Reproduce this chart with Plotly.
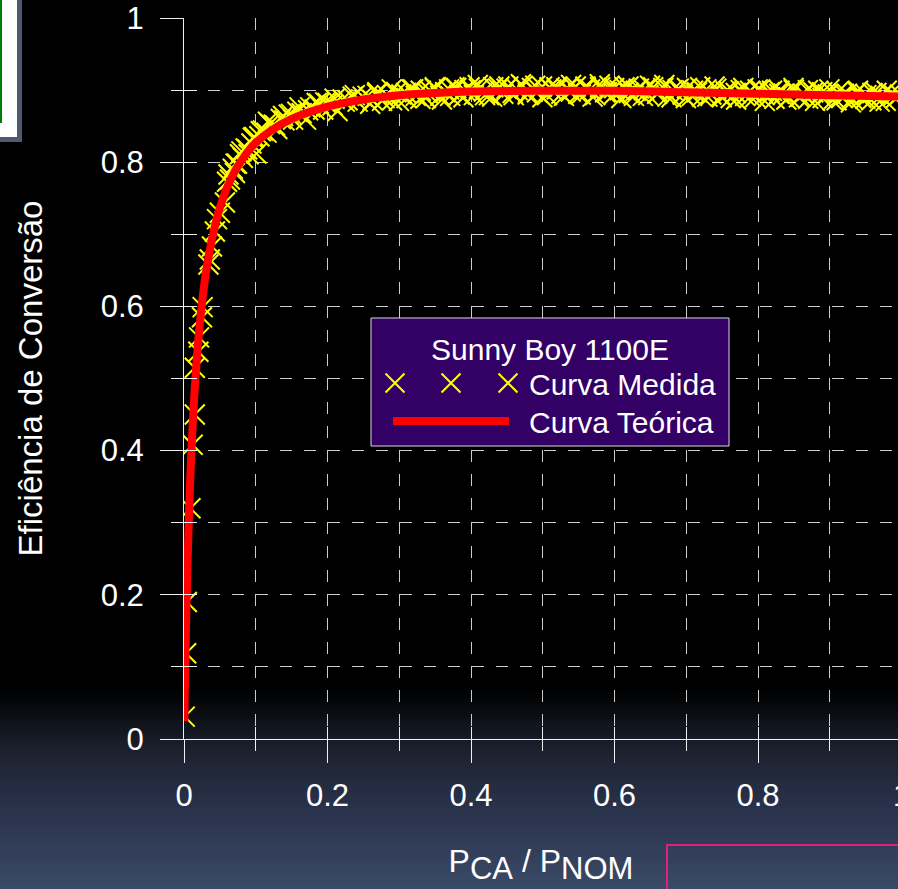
import plotly.graph_objects as go

# ---------------- data ----------------
# measured efficiency points (Curva Medida)
meas_x = [
    0.001, 0.003, 0.004, 0.009, 0.012, 0.015, 0.015, 0.020, 0.021, 0.025,
    0.026, 0.034, 0.036, 0.039, 0.043, 0.046, 0.050, 0.057,
    0.060, 0.064, 0.068, 0.071, 0.074, 0.078, 0.082, 0.086, 0.090, 0.094,
    0.098, 0.101, 0.105, 0.110, 0.115, 0.120, 0.125, 0.130, 0.135, 0.140,
    0.146, 0.152, 0.158, 0.164, 0.170, 0.176, 0.182, 0.188, 0.194, 0.200,
    0.207, 0.214, 0.221, 0.228, 0.235, 0.242, 0.249,
    0.062, 0.072, 0.080, 0.088, 0.096, 0.107, 0.117, 0.127, 0.138, 0.149,
    0.161, 0.173, 0.185, 0.197, 0.210, 0.224, 0.238,
    0.256, 0.263, 0.269, 0.276, 0.283, 0.290, 0.296, 0.303, 0.310, 0.317,
    0.323, 0.330, 0.337, 0.344, 0.350, 0.357, 0.364, 0.371, 0.377, 0.384,
    0.391, 0.398, 0.404, 0.411, 0.418, 0.425, 0.431, 0.438, 0.445, 0.452,
    0.458, 0.465, 0.472, 0.479, 0.485, 0.492, 0.499, 0.506, 0.512, 0.519,
    0.526, 0.533, 0.539, 0.546, 0.553, 0.560, 0.566, 0.573, 0.580, 0.587,
    0.593, 0.600, 0.607, 0.614, 0.620, 0.627, 0.634, 0.641, 0.647, 0.654,
    0.661, 0.668, 0.674, 0.681, 0.688, 0.695, 0.701, 0.708, 0.715, 0.722,
    0.728, 0.735, 0.742, 0.749, 0.755, 0.762, 0.769, 0.776, 0.782, 0.789,
    0.796, 0.803, 0.809, 0.816, 0.823, 0.830, 0.836, 0.843, 0.850, 0.857,
    0.863, 0.870, 0.877, 0.884, 0.890, 0.897, 0.904, 0.911, 0.917, 0.924,
    0.931, 0.938, 0.944, 0.951, 0.958, 0.965, 0.971, 0.978, 0.985, 0.992, 0.998,
    0.2595, 0.2695, 0.2795, 0.2895, 0.2995, 0.3095, 0.3195, 0.3295, 0.3395, 0.3495,
    0.3595, 0.3695, 0.3795, 0.3895, 0.3995, 0.4095, 0.4195, 0.4295, 0.4395, 0.4495,
    0.4595, 0.4695, 0.4795, 0.4895, 0.4995, 0.5095, 0.5195, 0.5295, 0.5395, 0.5495,
    0.5595, 0.5695, 0.5795, 0.5895, 0.5995, 0.6095, 0.6195, 0.6295, 0.6395, 0.6495,
    0.6595, 0.6695, 0.6795, 0.6895, 0.6995, 0.7095, 0.7195, 0.7295, 0.7395, 0.7495,
    0.7595, 0.7695, 0.7795, 0.7895, 0.7995, 0.8095, 0.8195, 0.8295, 0.8395, 0.8495,
    0.8595, 0.8695, 0.8795, 0.8895, 0.8995, 0.9095, 0.9195, 0.9295, 0.9395, 0.9495,
    0.9595, 0.9695, 0.9795, 0.9895,
]
meas_y = [
    0.031, 0.119, 0.190, 0.320, 0.408, 0.450, 0.515, 0.537, 0.557, 0.585,
    0.599, 0.658, 0.665, 0.683, 0.704, 0.721, 0.730, 0.744,
    0.773, 0.776, 0.791, 0.785, 0.798, 0.811, 0.806, 0.819, 0.811, 0.826,
    0.835, 0.812, 0.836, 0.844, 0.841, 0.853, 0.852, 0.846, 0.860, 0.858,
    0.866, 0.859, 0.870, 0.868, 0.859, 0.876, 0.873, 0.881, 0.873, 0.882,
    0.879, 0.871, 0.887, 0.886, 0.891, 0.884, 0.891,
    0.783, 0.798, 0.815, 0.818, 0.834, 0.843, 0.856, 0.851, 0.864, 0.867,
    0.876, 0.872, 0.882, 0.883, 0.888, 0.884, 0.893,
    0.892, 0.886, 0.895, 0.885, 0.893, 0.886, 0.897, 0.894, 0.889, 0.901,
    0.892, 0.899, 0.889, 0.898, 0.902, 0.892, 0.897, 0.892, 0.904, 0.894,
    0.900, 0.904, 0.893, 0.902, 0.898, 0.893, 0.904, 0.902, 0.895, 0.905,
    0.896, 0.900, 0.906, 0.894, 0.903, 0.897, 0.905, 0.893, 0.901, 0.904,
    0.895, 0.902, 0.898, 0.905, 0.894, 0.903, 0.901, 0.893, 0.904, 0.897,
    0.906, 0.895, 0.900, 0.904, 0.896, 0.892, 0.902, 0.900, 0.893, 0.904,
    0.897, 0.903, 0.891, 0.900, 0.901, 0.894, 0.903, 0.892, 0.897, 0.891,
    0.901, 0.894, 0.902, 0.892, 0.898, 0.889, 0.896, 0.900, 0.892, 0.899,
    0.890, 0.901, 0.893, 0.897, 0.888, 0.899, 0.895, 0.890, 0.900, 0.890,
    0.895, 0.888, 0.897, 0.899, 0.889, 0.894, 0.886, 0.897, 0.890, 0.895,
    0.888, 0.898, 0.889, 0.893, 0.886, 0.896, 0.892, 0.885, 0.895, 0.889, 0.894,
    0.881, 0.897, 0.889, 0.901, 0.885, 0.896, 0.901, 0.888, 0.896, 0.904,
    0.887, 0.901, 0.903, 0.890, 0.900, 0.907, 0.893, 0.891, 0.905, 0.902,
    0.893, 0.908, 0.896, 0.906, 0.890, 0.904, 0.901, 0.892, 0.907, 0.895,
    0.905, 0.891, 0.908, 0.897, 0.903, 0.889, 0.905, 0.899, 0.892, 0.906,
    0.895, 0.907, 0.890, 0.902, 0.889, 0.899, 0.904, 0.891, 0.905, 0.890,
    0.898, 0.887, 0.903, 0.891, 0.901, 0.885, 0.899, 0.895, 0.887, 0.903,
    0.891, 0.900, 0.885, 0.897, 0.901, 0.886, 0.895, 0.883, 0.899, 0.888,
    0.896, 0.884, 0.899, 0.893,
]
# theoretical efficiency curve (Curva Teórica)
theo_x = [0.0004, 0.001, 0.002, 0.003, 0.004, 0.006, 0.008, 0.010, 0.0125, 0.015,
          0.0175, 0.020, 0.025, 0.030, 0.035, 0.040, 0.050, 0.060, 0.070, 0.080,
          0.090, 0.100, 0.120, 0.150, 0.200, 0.250, 0.300, 0.350, 0.400, 0.500,
          0.600, 0.700, 0.800, 0.900, 1.000]
theo_y = [0.025, 0.062, 0.117, 0.165, 0.208, 0.281, 0.341, 0.391, 0.443, 0.487,
          0.523, 0.554, 0.604, 0.643, 0.673, 0.698, 0.737, 0.765, 0.786, 0.802,
          0.816, 0.827, 0.843, 0.860, 0.877, 0.887, 0.893, 0.896, 0.898, 0.899,
          0.899, 0.897, 0.895, 0.893, 0.891]

legend_title = "Sunny Boy 1100E"
series_names = ["Curva Medida", "Curva Teórica"]
x_title = ("P<sub><span style='font-size:31px'>CA</span></sub> / "
           "P<sub><span style='font-size:31px'>NOM</span></sub>")
y_title = "Eficiência de Conversão"
x_dtick, x_minor = 0.2, 0.1
y_dtick, y_minor = 0.2, 0.1
cut_tick_label = "1"

# ---------------- layout geometry ----------------
W, H = 898, 889
L, T, BOT = 184, 18, 739
PW, PH = W - L, BOT - T
PX_PER_UNIT = 717.5
XMAX = PW / PX_PER_UNIT
FONT = "Liberation Sans, Arial, sans-serif"
AXC = "#f0f0f0"
GRIDC = "#cccccc"


def px(xp):
    return (xp - L) / PW


def py(yp):
    return (BOT - yp) / PH


fig = go.Figure()

fig.add_trace(go.Scatter(
    x=meas_x, y=meas_y, mode="markers", name=series_names[0], showlegend=False,
    marker=dict(symbol="x-thin", size=20, color="#ffff00",
                line=dict(color="#ffff00", width=2)),
    hoverinfo="skip"))
fig.add_trace(go.Scatter(
    x=theo_x, y=theo_y, mode="lines", name=series_names[1], showlegend=False,
    line=dict(color="#ff0000", width=8, shape="spline"), hoverinfo="skip"))
# empty trace to host the overlay axes carrying the inner tick marks
fig.add_trace(go.Scatter(x=[], y=[], xaxis="x2", yaxis="y2", showlegend=False))

shapes = []
# background gradient (slide background)
stops = [(690, (0, 0, 0)), (720, (14, 17, 24)), (750, (28, 33, 45)),
         (800, (40, 48, 72)), (850, (50, 62, 90)), (889, (58, 74, 102))]


def grad(yp):
    for (y0, c0), (y1, c1) in zip(stops[:-1], stops[1:]):
        if y0 <= yp <= y1:
            t = (yp - y0) / (y1 - y0)
            return tuple(round(a + (b - a) * t) for a, b in zip(c0, c1))
    return stops[-1][1]


for yp in range(690, 890, 2):
    r, g, b = grad(yp + 1)
    shapes.append(dict(type="rect", xref="paper", yref="paper", layer="below",
                       x0=px(-2), x1=px(W + 2), y0=py(yp + 2.5), y1=py(yp),
                       fillcolor=f"rgb({r},{g},{b})", line=dict(width=0)))

# decorative slide elements
shapes += [
    dict(type="rect", xref="paper", yref="paper", layer="above",
         x0=px(-40), x1=px(22), y0=py(142), y1=py(-40),
         fillcolor="#4f5a6e", line=dict(width=0)),
    dict(type="rect", xref="paper", yref="paper", layer="above",
         x0=px(-40), x1=px(17), y0=py(137), y1=py(-40),
         fillcolor="#ffffff", line=dict(width=0)),
    dict(type="rect", xref="paper", yref="paper", layer="above",
         x0=px(-40), x1=px(2), y0=py(123), y1=py(-40),
         fillcolor="#008000", line=dict(width=0)),
    dict(type="rect", xref="paper", yref="paper", layer="above",
         x0=px(667), x1=px(W + 20), y0=py(H + 20), y1=py(845),
         fillcolor="rgba(0,0,0,0)", line=dict(color="#e0207a", width=2)),
]

# legend box
shapes.append(dict(type="rect", xref="paper", yref="paper", layer="above",
                   x0=px(371), x1=px(729), y0=py(446), y1=py(318),
                   fillcolor="#330066", line=dict(color="#d8d8d8", width=1)))
for cx in (395, 451, 508):
    cy, h = 383, 9.5
    shapes.append(dict(type="path", xref="paper", yref="paper", layer="above",
                       path=(f"M{px(cx-h)},{py(cy-h)} L{px(cx+h)},{py(cy+h)} "
                             f"M{px(cx-h)},{py(cy+h)} L{px(cx+h)},{py(cy-h)}"),
                       line=dict(color="#ffff00", width=2)))
shapes.append(dict(type="line", xref="paper", yref="paper", layer="above",
                   x0=px(393), x1=px(509), y0=py(421), y1=py(421),
                   line=dict(color="#ff0000", width=8)))

annotations = [
    dict(text=legend_title, xref="paper", yref="paper", x=px(550), y=py(349),
         xanchor="center", yanchor="middle", showarrow=False,
         font=dict(family=FONT, size=30, color="white")),
    dict(text=series_names[0], xref="paper", yref="paper", x=px(527), y=py(384),
         xanchor="left", yanchor="middle", showarrow=False,
         font=dict(family=FONT, size=30, color="white")),
    dict(text=series_names[1], xref="paper", yref="paper", x=px(527), y=py(422),
         xanchor="left", yanchor="middle", showarrow=False,
         font=dict(family=FONT, size=30, color="white")),
    # tick label at x=1, cut by the right edge of the picture
    dict(text=cut_tick_label, xref="paper", yref="paper", x=px(901), y=py(795),
         xanchor="center", yanchor="middle", showarrow=False,
         font=dict(family=FONT, size=31, color="white")),
]

tickfont = dict(family=FONT, size=31, color="white")

fig.update_layout(
    width=W, height=H, autosize=False,
    margin=dict(l=L, r=0, t=T, b=H - BOT, pad=0),
    paper_bgcolor="#000000", plot_bgcolor="rgba(0,0,0,0)",
    font=dict(family=FONT, color="white"),
    showlegend=False,
    xaxis=dict(range=[0, XMAX], dtick=x_dtick, tick0=0, ticks="outside",
               ticklen=23, tickwidth=1, tickcolor=AXC, showline=True,
               linecolor=AXC, linewidth=1, zeroline=False,
               showgrid=True, gridcolor=GRIDC, gridwidth=1, griddash="12px,12px",
               minor=dict(dtick=x_minor, tick0=0, ticks="outside", ticklen=11,
                          tickwidth=1, tickcolor=AXC, showgrid=True,
                          gridcolor=GRIDC, gridwidth=1, griddash="12px,12px"),
               tickfont=tickfont, ticklabelstandoff=6,
               title=dict(text=x_title, font=dict(family=FONT, size=32, color="white"),
                          standoff=37)),
    yaxis=dict(range=[0, 1], dtick=y_dtick, tick0=0, ticks="outside",
               ticklen=23, tickwidth=1, tickcolor=AXC, showline=True,
               linecolor=AXC, linewidth=1, zeroline=False,
               showgrid=True, gridcolor=GRIDC, gridwidth=1, griddash="12px,12px",
               minor=dict(dtick=y_minor, tick0=0, ticks="outside", ticklen=12,
                          tickwidth=1, tickcolor=AXC, showgrid=True,
                          gridcolor=GRIDC, gridwidth=1, griddash="12px,12px"),
               tickfont=tickfont, ticklabelstandoff=10,
               title=dict(text=y_title, font=dict(family=FONT, size=33, color="white"),
                          standoff=48)),
    xaxis2=dict(overlaying="x", anchor="y2", range=[0, XMAX], dtick=x_minor, tick0=0,
                ticks="inside", ticklen=12, tickwidth=1, tickcolor=AXC,
                showticklabels=False, showgrid=False, showline=False, zeroline=False),
    yaxis2=dict(overlaying="y", anchor="x2", range=[0, 1], dtick=y_minor, tick0=0,
                ticks="inside", ticklen=13, tickwidth=1, tickcolor=AXC,
                showticklabels=False, showgrid=False, showline=False, zeroline=False),
    shapes=shapes,
    annotations=annotations,
)

fig.write_html("out.html", config={"displayModeBar": False},
               post_script="document.body.style.margin='0px';"
                           "document.body.style.overflow='hidden';")
